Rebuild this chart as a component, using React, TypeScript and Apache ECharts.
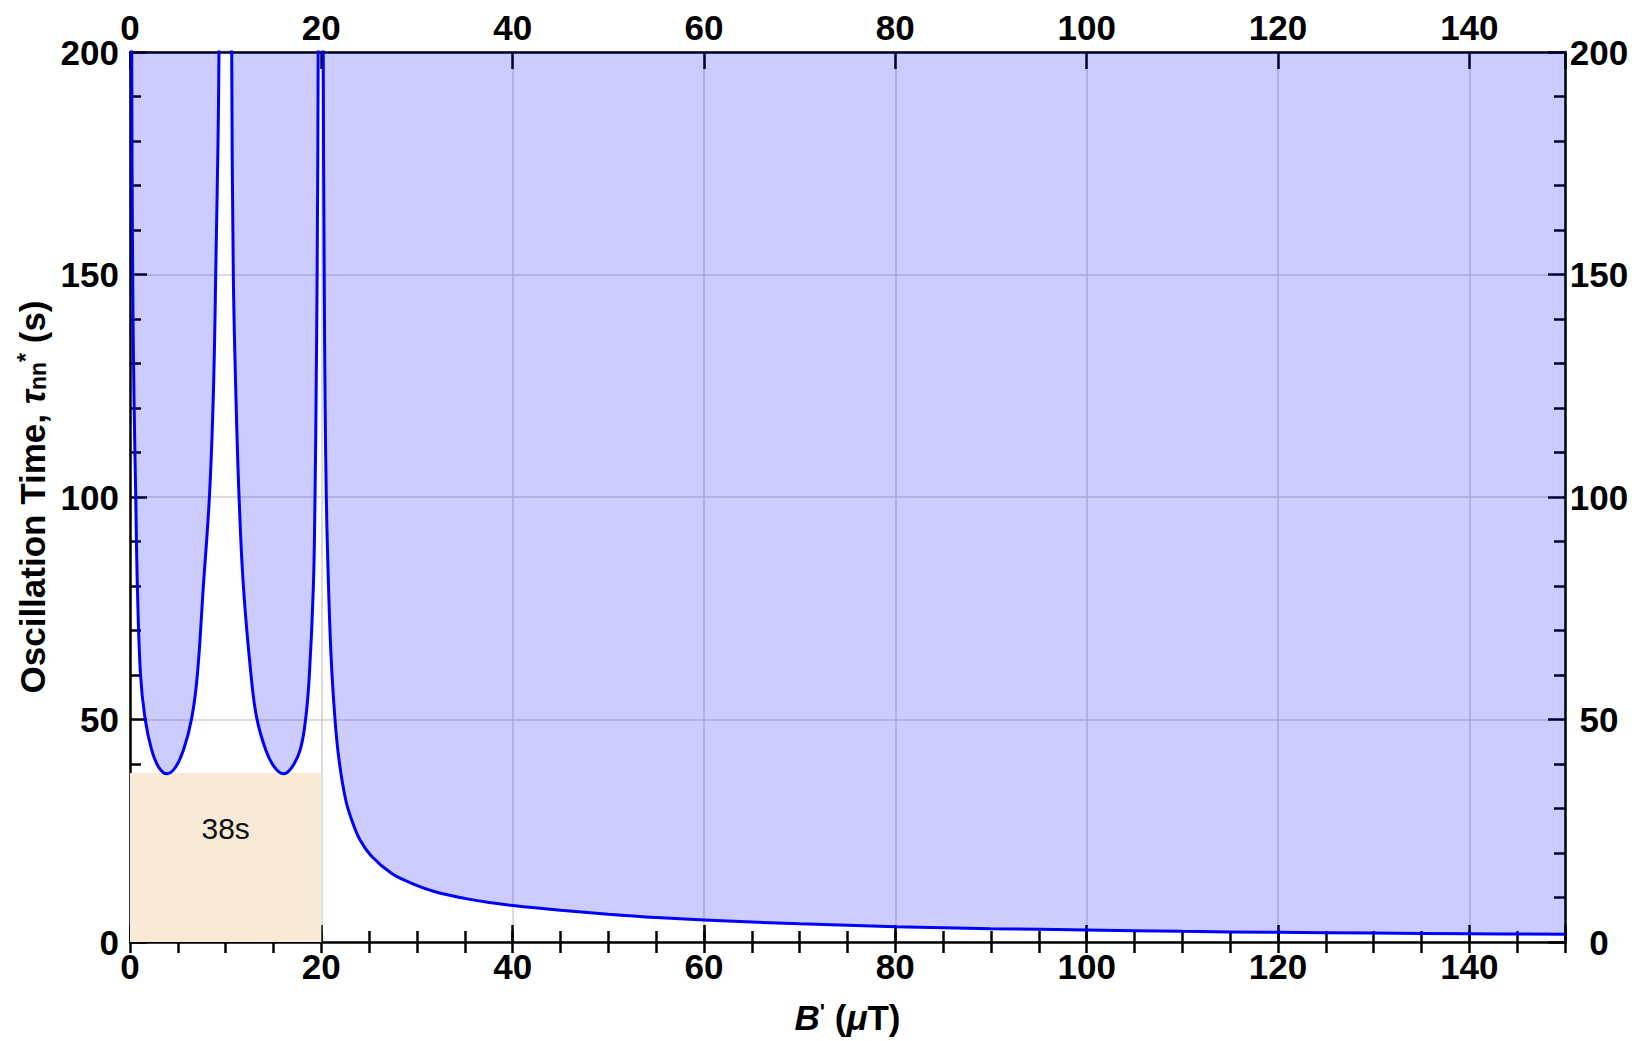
import React, { useEffect, useRef } from 'react';
import * as echarts from 'echarts';

const FIELD_B = [
  0.09, 0.18, 0.28, 0.42, 0.6, 0.77, 1.1, 1.57, 2.27, 3.0, 3.83, 4.7, 5.58, 6.45, 7.04, 7.67, 8.3, 8.7, 8.96, 9.3, 9.62,
  10.29, 10.63, 10.8, 11.08, 11.4, 11.85, 12.65, 13.25, 14.2, 15.1, 16.03, 16.9, 17.78, 18.37, 18.75, 19.17, 19.34, 19.45, 19.56, 19.67, 19.83,
  20.1, 20.2, 20.3, 20.4, 20.52, 20.67, 21.0, 21.43, 21.85, 22.55, 23.18, 24.05, 25.27, 27.36, 29.45, 31.9, 35.0, 37.8, 40.0, 45.0,
  50.0, 55.0, 60.0, 70.0, 80.0, 90.0, 100, 110, 120, 130, 140, 150,
];
// Oscillation time tau (s) at those fields
const TAU = [
  400, 200, 150, 122, 100, 80, 60, 50.3, 43.1, 39.3, 37.8, 39.1, 43.1, 50.3, 60, 80, 100, 122, 150, 200, 400,
  400, 200, 150, 122, 100, 80, 60, 50.3, 43.1, 39.3, 37.8, 39.2, 43.1, 50.3, 60, 80, 100, 122, 150, 200, 400,
  400, 200, 150, 120, 100, 86, 65, 50, 40.9, 31.9, 27.4, 22.9, 19.2, 15.4, 13.2, 11.3, 9.8, 8.8, 8.2, 7.15,
  6.25, 5.5, 4.94, 4.1, 3.45, 3.0, 2.7, 2.4, 2.17, 2.0, 1.87, 1.73,
];

const X_RANGE = [0, 150];
const Y_RANGE = [0, 200];
const X_MAJOR_STEP = 20;
const X_MINOR_STEP = 5;
const Y_MAJOR_STEP = 50;
const BAND_B = [0, 20];
const BAND_TAU = 38;
const BAND_LABEL = '38s';

export default function App() {
  const ref = useRef<HTMLDivElement>(null);

  useEffect(() => {
    if (!ref.current) return;
    const chart = echarts.init(ref.current, null, { renderer: 'svg' });
    const font = "'Liberation Sans', Arial, Helvetica, sans-serif";
    const lbl = { fontFamily: font, fontWeight: 'bold' as const, fontSize: 35, color: '#000' };
    const axisLine = { show: true, onZero: false, lineStyle: { color: '#000', width: 2.5 } };
    const majorTick = { show: true, inside: true, length: 17, lineStyle: { color: '#000', width: 2.5 } };
    const minorTick = { show: true, inside: true, length: 11, lineStyle: { color: '#000', width: 2.5 } };
    const grid = { show: true, lineStyle: { color: '#d0d0d0', width: 1.5 } };
    const xFmt = (v: number) => (v % X_MAJOR_STEP === 0 ? String(v) : '');

    const data = FIELD_B.map((b, i) => [b, TAU[i]]);

    const baseX = { type: 'value' as const, min: X_RANGE[0], max: X_RANGE[1] };
    const baseY = { type: 'value' as const, min: Y_RANGE[0], max: Y_RANGE[1], interval: Y_MAJOR_STEP };

    chart.setOption({
      animation: false,
      backgroundColor: '#fff',
      grid: { left: 130, right: 78, top: 52, bottom: 99, containLabel: false },
      xAxis: [
        {
          ...baseX, position: 'bottom', interval: X_MAJOR_STEP,
          axisLine, axisTick: majorTick, splitLine: grid,
          axisLabel: { ...lbl, margin: 7, formatter: xFmt },
          name: "{b|B}{p|'}{n| (}{m|μ}{n|T)}",
          nameLocation: 'middle', nameGap: 58,
          nameTextStyle: {
            rich: {
              b: { ...lbl, fontStyle: 'italic' },
              p: { ...lbl, fontSize: 22, verticalAlign: 'top' },
              n: { ...lbl },
              m: { ...lbl, fontStyle: 'italic' },
            },
          },
        },
        {
          ...baseX, position: 'top', interval: X_MAJOR_STEP,
          axisLine, axisTick: majorTick, splitLine: { show: false },
          axisLabel: { ...lbl, margin: 7, formatter: xFmt },
        },
        {
          ...baseX, position: 'bottom', interval: X_MINOR_STEP,
          axisLine: { show: false }, axisTick: minorTick, splitLine: { show: false }, axisLabel: { show: false },
        },
        {
          ...baseX, position: 'top', interval: X_MINOR_STEP,
          axisLine: { show: false }, axisTick: minorTick, splitLine: { show: false }, axisLabel: { show: false },
        },
      ],
      yAxis: [
        {
          ...baseY, position: 'left',
          axisLine, axisTick: majorTick, minorTick: { ...minorTick, splitNumber: 5 }, splitLine: grid,
          axisLabel: { ...lbl, margin: 11 },
          name: '{n|Oscillation Time, }{t|τ}{s|nn}{p|*}{n| (s)}',
          nameLocation: 'middle', nameGap: 80,
          nameTextStyle: {
            rich: {
              n: { ...lbl },
              t: { ...lbl, fontStyle: 'italic' },
              s: { ...lbl, fontSize: 23, verticalAlign: 'bottom' },
              p: { ...lbl, fontSize: 23, verticalAlign: 'top' },
            },
          },
        },
        {
          ...baseY, position: 'right',
          axisLine, axisTick: majorTick, minorTick: { ...minorTick, splitNumber: 5 }, splitLine: { show: false },
          axisLabel: { ...lbl, margin: 34, align: 'center' },
        },
      ],
      series: [
        {
          type: 'line',
          xAxisIndex: 0,
          yAxisIndex: 0,
          data,
          showSymbol: false,
          smooth: 0.4,
          clip: true,
          z: 3,
          lineStyle: { color: '#0000ff', width: 3 },
          areaStyle: { color: 'rgba(0,0,255,0.2)', opacity: 1, origin: 'end' },
          markArea: {
            silent: true,
            itemStyle: { color: '#f8ead6', opacity: 1 },
            label: {
              show: true,
              position: ['50%', '33%'],
              align: 'center',
              verticalAlign: 'middle',
              fontFamily: font,
              fontSize: 30,
              color: '#111',
            },
            data: [[{ name: BAND_LABEL, coord: [BAND_B[0], 0] }, { coord: [BAND_B[1], BAND_TAU] }]],
          },
        },
      ],
    });

    return () => chart.dispose();
  }, []);

  return <div ref={ref} style={{ position: 'fixed', left: 0, top: 0, width: 1643, height: 1041 }} />;
}
